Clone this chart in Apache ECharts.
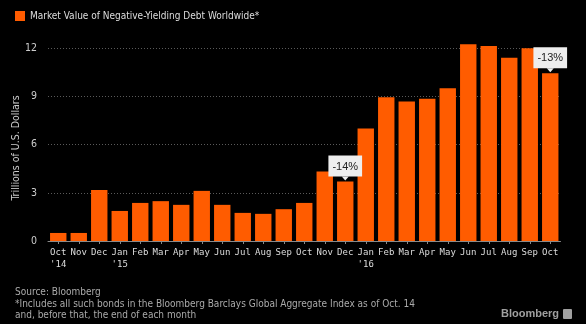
<!DOCTYPE html>
<html>
<head>
<meta charset="utf-8">
<script src="https://cdn.jsdelivr.net/npm/echarts@6/dist/echarts.min.js"></script>
<style>
html,body{margin:0;padding:0;background:#000;}
#c{width:586px;height:324px;}
</style>
</head>
<body>
<div id="c"></div>
<script>
const categories = ["Oct\n'14","Nov","Dec","Jan\n'15","Feb","Mar","Apr","May","Jun","Jul","Aug","Sep","Oct","Nov","Dec","Jan\n'16","Feb","Mar","Apr","May","Jun","Jul","Aug","Sep","Oct"];
const values = [0.5,0.5,3.18,1.87,2.37,2.48,2.25,3.12,2.25,1.75,1.69,1.98,2.37,4.33,3.7,7.0,8.94,8.69,8.85,9.5,12.25,12.14,11.4,12.0,10.44];
const yTicks = [0,3,6,9,12];
const annotIdx = [14,24];
const annotText = ['-14%','-13%'];
const seriesName = 'Market Value of Negative-Yielding Debt Worldwide*';
const yName = 'Trillions of U.S. Dollars';
const footer = ['Source: Bloomberg','*Includes all such bonds in the Bloomberg Barclays Global Aggregate Index as of Oct. 14','and, before that, the end of each month'];

const orange = '#ff5c00';
const narrow = '"Liberation Sans Narrow","DejaVu Sans Condensed","Liberation Sans",sans-serif';

const data = values.map((v,i)=>{
  const k = annotIdx.indexOf(i);
  if (k < 0) return v;
  return {
    value: v,
    label: {
      show: true, position: 'top', distance: 5,
      formatter: annotText[k],
      backgroundColor: '#eeeeee', color: '#222', padding: [5,4,4,4],
      fontSize: 11, lineHeight: 12, fontFamily: 'Liberation Sans, sans-serif'
    }
  };
});

const chart = echarts.init(document.getElementById('c'), null, {renderer:'canvas'});
chart.setOption({
  backgroundColor: '#000',
  animation: false,
  legend: {
    left: 10, top: 6, itemWidth: 10, itemHeight: 10, itemGap: 4,
    icon: 'rect',
    textStyle: {color: '#dddddd', fontSize: 10, fontFamily: narrow},
    data: [seriesName]
  },
  grid: {left: 48, right: 25.5, top: 0, bottom: 83},
  xAxis: {
    type: 'category',
    data: categories,
    axisLine: {lineStyle: {color: '#8a8a8a', width: 1}},
    axisTick: {show: true, alignWithLabel: true, length: 3, lineStyle: {color: '#8a8a8a'}},
    axisLabel: {interval: 0, color: '#dddddd', fontSize: 9, fontFamily: '"DejaVu Sans Mono", monospace', margin: 6, lineHeight: 12}
  },
  yAxis: {
    type: 'value', min: 0, max: 15, interval: 3,
    axisLine: {show: false}, axisTick: {show: false},
    axisLabel: {color: '#cccccc', fontSize: 10.5, fontFamily: narrow, margin: 11,
      formatter: v => yTicks.indexOf(v) >= 0 ? String(v) : ''},
    splitLine: {show: true, lineStyle: {color: ['transparent','#5a5a5a','#5a5a5a','#5a5a5a','#5a5a5a','transparent'], type: [1,2], width: 1}}
  },
  series: [{
    name: seriesName,
    type: 'bar',
    data: data,
    barCategoryGap: '20%',
    itemStyle: {color: orange},
    markPoint: {
      symbol: 'triangle', symbolRotate: 180, symbolSize: [7,4], symbolOffset: [0,-3],
      itemStyle: {color: '#eeeeee'},
      label: {show: false},
      silent: true,
      data: annotIdx.map(i => ({coord: [i, values[i]]}))
    }
  }],
  graphic: [
    {type: 'text', x: 16, y: 148, rotation: Math.PI/2, style: {text: yName, fill: '#cccccc', font: '10.5px ' + narrow, align: 'center', verticalAlign: 'middle'}},
    {type: 'text', left: 15, top: 287, style: {text: footer[0], fill: '#aaaaaa', font: '10px ' + narrow}},
    {type: 'text', left: 15, top: 299, style: {text: footer[1], fill: '#aaaaaa', font: '10px ' + narrow}},
    {type: 'text', left: 15, top: 310, style: {text: footer[2], fill: '#aaaaaa', font: '10px ' + narrow}},
    {type: 'text', left: 501, top: 308, style: {text: 'Bloomberg', fill: '#a0a0a0', font: 'bold 11px "Liberation Sans", sans-serif'}},
    {type: 'rect', left: 563, top: 309, shape: {width: 9, height: 10, r: 1}, style: {fill: '#a0a0a0'}}
  ]
});
</script>
</body>
</html>
